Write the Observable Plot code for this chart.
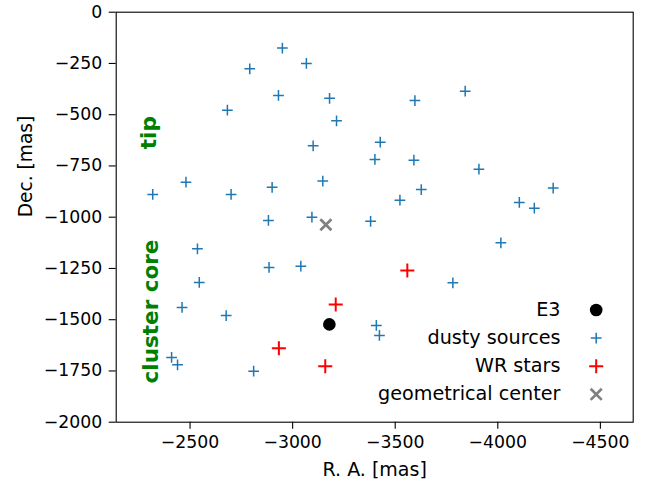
<!DOCTYPE html>
<html>
<head>
<meta charset="utf-8">
<script src="https://cdn.jsdelivr.net/npm/d3@7"></script>
<script src="https://cdn.jsdelivr.net/npm/@observablehq/plot@0.6"></script>
<style>
  body { margin: 0; background: #fff; }
</style>
</head>
<body>
<div id="chart"></div>
<script>
// Dusty sources (offsets in mas)
const dustyRA  = [-2950, -3067, -2791, -2931, -3180, -2682, -3214, -3100, -2480, -3147,
                  -2318, -2700, -2900, -2882, -3094, -3841, -3596, -3427, -3401, -3591,
                  -3908, -3627, -3523, -4270, -4105, -4178, -3380, -4015, -3781, -3408,
                  -3423, -2536, -2545, -2885, -3040, -2461, -2676, -2410, -2439, -2810];
const dustyDec = [ -175,  -250,  -276,  -406,  -420,  -478,  -530,  -652,  -829,  -824,
                   -889,  -889,  -854, -1016, -1000,  -385,  -431,  -634,  -718,  -722,
                   -766,  -865,  -917,  -858,  -928,  -956, -1020, -1125, -1320, -1528,
                  -1577, -1154, -1318, -1245, -1239, -1440, -1480, -1684, -1720, -1751];

// Wolf-Rayet stars
const wrRA  = [-3559, -3210, -2933, -3159];
const wrDec = [-1260, -1426, -1639, -1727];

// E3 and the geometrical center of the cluster
const e3RA = [-3179];
const e3Dec = [-1523];
const centerRA = [-3162];
const centerDec = [-1037];

// Region annotations
const regionNames = ["tip", "cluster core"];
const regionRA = [-2300, -2310];
const regionDec = [-588, -1460];

// Axes
const xTicks = [-2500, -3000, -3500, -4000, -4500];
const yTicks = [0, -250, -500, -750, -1000, -1250, -1500, -1750, -2000];
const xLabel = "R. A. [mas]";
const yLabel = "Dec. [mas]";

// Legend entries, top to bottom
const legendNames = ["E3", "dusty sources", "WR stars", "geometrical center"];

const rows = (xs, ys) => xs.map((x, i) => ({x, y: ys[i]}));
const dusty = rows(dustyRA, dustyDec);
const wr = rows(wrRA, wrDec);
const e3 = rows(e3RA, e3Dec);
const center = rows(centerRA, centerDec);
const regions = regionNames.map((name, i) => ({name, x: regionRA[i], y: regionDec[i]}));

const styles = {
  "E3": {symbol: "circle", r: 6.3, fill: "black"},
  "dusty sources": {symbol: "plus", r: 3.55, stroke: "#1f77b4", strokeWidth: 1.5},
  "WR stars": {symbol: "plus", r: 4.6, stroke: "red", strokeWidth: 2},
  "geometrical center": {symbol: "times", r: 5.1, stroke: "gray", strokeWidth: 2.7}
};

const rowGap = 28.1;
const legendMarks = legendNames.flatMap((name, i) => {
  const dy = -27.9 - (legendNames.length - 1 - i) * rowGap;
  return [
    Plot.text([name], {text: d => d, frameAnchor: "bottom-right", textAnchor: "end",
                       lineAnchor: "middle", dx: -72.7, dy, fontSize: 19.2, fill: "black"}),
    Plot.dot([name], {frameAnchor: "bottom-right", dx: -37, dy, ...styles[name]})
  ];
});

const chart = Plot.plot({
  width: 645,
  height: 481,
  marginLeft: 115.7,
  marginRight: 12.3,
  marginTop: 11.7,
  marginBottom: 59.3,
  style: {fontFamily: "'DejaVu Sans', sans-serif", fontSize: "17.3px", background: "#fff", color: "#000"},
  x: {domain: [-2140, -4660]},
  y: {domain: [-2000, 0]},
  marks: [
    Plot.axisX({ticks: xTicks, tickSize: 7, tickPadding: 7, tickFormat: d3.format("d"),
                label: null, fontSize: 17.3, strokeWidth: 1.1}),
    Plot.axisY({ticks: yTicks, tickSize: 7, tickPadding: 7, tickFormat: d3.format("d"),
                label: null, fontSize: 17.3, strokeWidth: 1.1}),
    Plot.text([xLabel], {text: d => d, frameAnchor: "bottom", lineAnchor: "bottom",
                         dy: 53.5, fontSize: 19}),
    Plot.text([yLabel], {text: d => d, frameAnchor: "left", lineAnchor: "bottom",
                         rotate: -90, dx: -84.5, fontSize: 18.6}),
    Plot.text(regions, {x: "x", y: "y", text: "name", rotate: -90, lineAnchor: "middle",
                        textAnchor: "middle", fill: "green", fontWeight: "bold", fontSize: 21.5}),
    Plot.dot(e3, {x: "x", y: "y", ...styles["E3"]}),
    Plot.dot(dusty, {x: "x", y: "y", ...styles["dusty sources"]}),
    Plot.dot(wr, {x: "x", y: "y", ...styles["WR stars"]}),
    Plot.dot(center, {x: "x", y: "y", ...styles["geometrical center"]}),
    ...legendMarks,
    Plot.frame({stroke: "black", strokeWidth: 1.1})
  ]
});

document.getElementById("chart").appendChild(chart);
</script>
</body>
</html>
